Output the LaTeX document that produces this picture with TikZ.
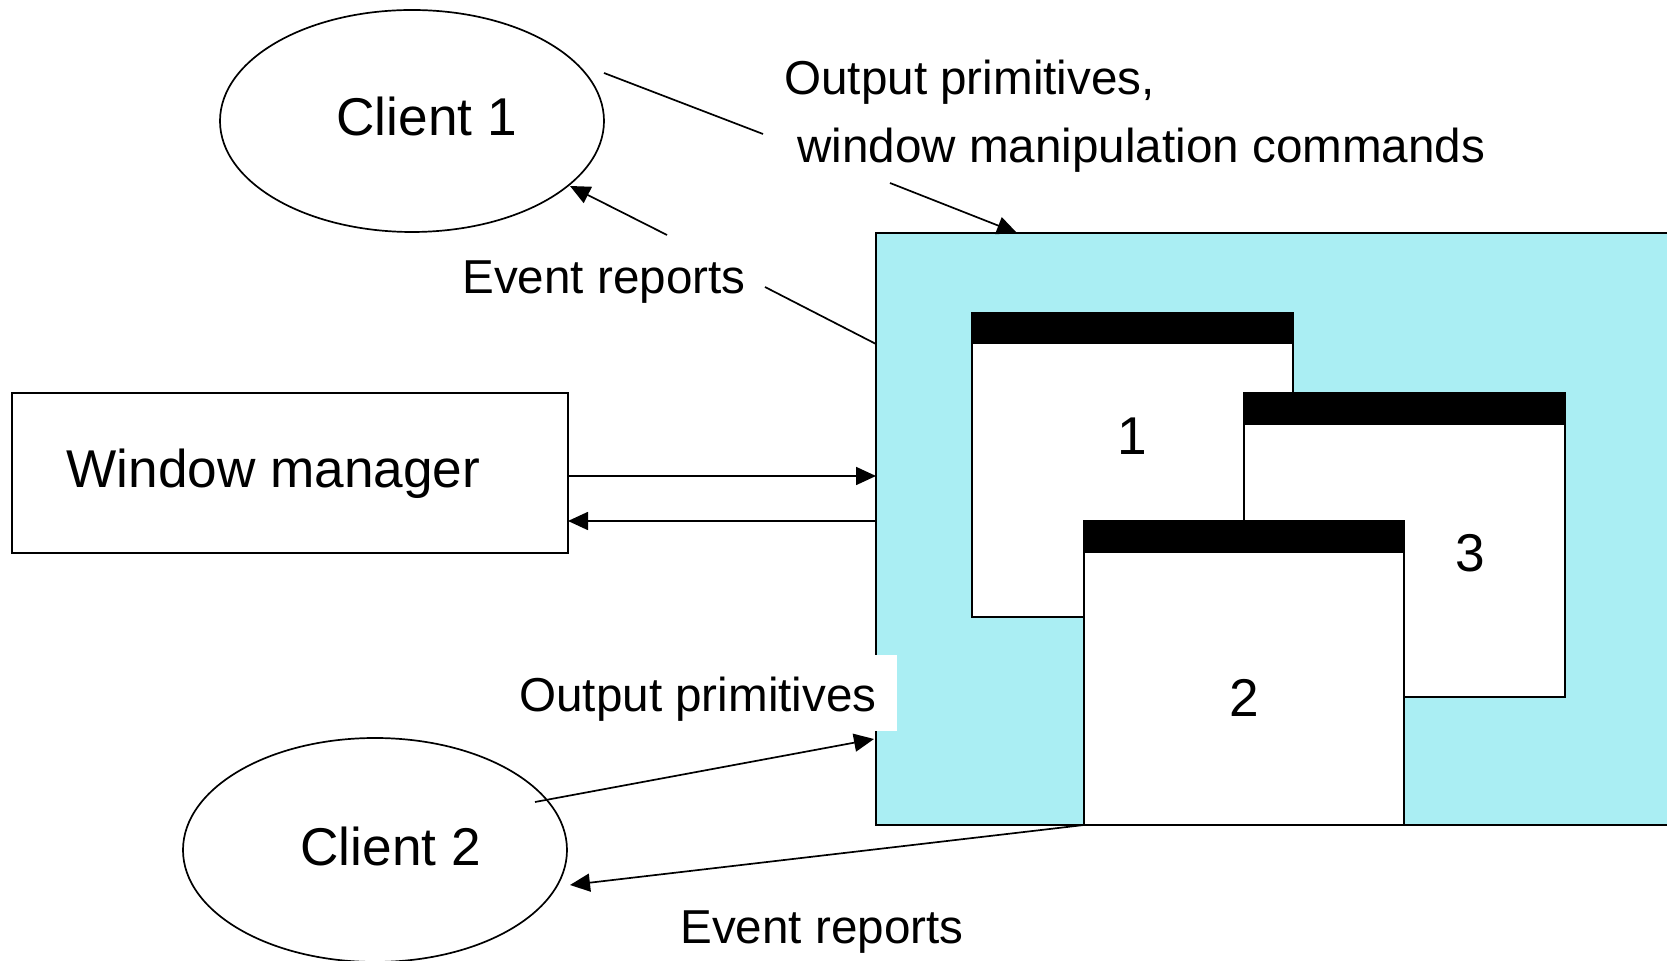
\documentclass[tikz,border=0pt]{standalone}
\usepackage{fontspec}
\setmainfont{Liberation Sans}
\usetikzlibrary{arrows.meta,shapes.geometric}
\definecolor{screencyan}{RGB}{170,238,243}
\tikzset{
  big/.style={font=\fontsize{26.6}{30}\selectfont, inner sep=0pt},
  lbl/.style={font=\fontsize{23.8}{28}\selectfont, inner sep=0pt},
  conn/.style={line width=0.85pt},
  arr/.style={conn, -{Triangle[length=10pt,width=9pt]}},
  frame/.style={draw, line width=0.85pt},
  winbody/.style={frame, fill=white},
  titlebar/.style={fill=black},
}
\begin{document}
\begin{tikzpicture}[x=0.5pt,y=-0.5pt]
\useasboundingbox (0,0) rectangle (1667,961);
\clip (0,0) rectangle (1667,961);

% display screen with three overlapping windows
\draw[frame, fill=screencyan] (876,233) rectangle (1700,825);
\draw[winbody] (972,313) rectangle (1293,617);
\fill[titlebar] (972,313) rectangle (1293,344);
\draw[winbody] (1244,393) rectangle (1565,697);
\fill[titlebar] (1244,393) rectangle (1565,425);
\draw[winbody] (1084,521) rectangle (1404,825);
\fill[titlebar] (1084,521) rectangle (1404,553);
\node[big, anchor=base] (w1) at (1132,455) {1};
\node[big, anchor=base] (w3) at (1470,572) {3};
\node[big, anchor=base] (w2) at (1244,717) {2};

% clients and window manager
\node[frame, ellipse, minimum width=192pt, minimum height=111pt, inner sep=0pt] (c1) at (412,121) {};
\node[big, anchor=base west] (c1t) at (336,136) {Client 1};
\node[frame, ellipse, minimum width=192pt, minimum height=112pt, inner sep=0pt] (c2) at (375,850) {};
\node[big, anchor=base west] (c2t) at (300,866) {Client 2};
\draw[frame] (12,393) rectangle (568,553);
\node[big, anchor=base west] (wmt) at (66,488) {Window manager};

% labels
\node[lbl, anchor=base west] (op1a) at (784,95) {Output primitives,};
\node[lbl, anchor=base west] (op1b) at (797,163) {window manipulation commands};
\node[lbl, anchor=base west] (ev1) at (462,294) {Event reports};
\fill[white] (505,655) rectangle (897,731);
\node[lbl, anchor=base west] (op2) at (519,712) {Output primitives};
\node[lbl, anchor=base west] (ev2) at (680,944) {Event reports};

% connector end points
\coordinate (p1) at (604,73);
\coordinate (p2) at (763,134);
\coordinate (p3) at (890,183);
\coordinate (p4) at (1017,233);
\coordinate (e1) at (876,344);
\coordinate (e2) at (765,287);
\coordinate (e3) at (667,235);
\coordinate (e4) at (570,186);
\coordinate (m1) at (568,476);
\coordinate (m2) at (876,476);
\coordinate (m3) at (876,521);
\coordinate (m4) at (568,521);
\coordinate (q1) at (535,802);
\coordinate (q2) at (874,739);
\coordinate (r1) at (1084,825);
\coordinate (r2) at (570,885);

% connectors
\draw[conn] (p1) -- (p2);
\draw[arr] (p3) -- (p4);
\draw[conn] (e1) -- (e2);
\draw[arr] (e3) -- (e4);
\draw[arr] (m1) -- (m2);
\draw[arr] (m3) -- (m4);
\draw[arr] (q1) -- (q2);
\draw[arr] (r1) -- (r2);
\end{tikzpicture}
\end{document}
